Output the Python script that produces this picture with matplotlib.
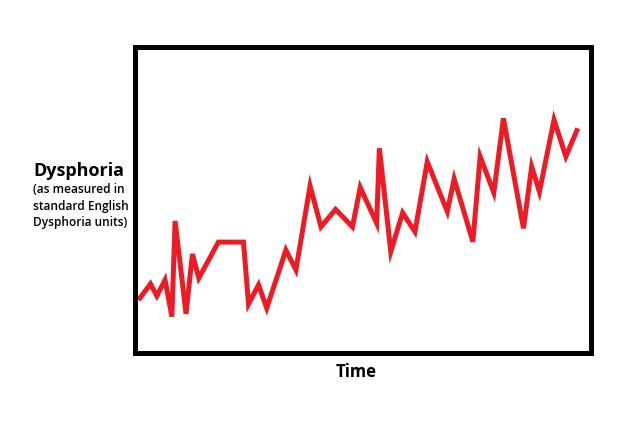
import matplotlib
matplotlib.use("Agg")
import matplotlib.pyplot as plt

# time (0-100) and dysphoria (0-100)
time = [1.2, 3.5, 4.9, 6.7, 8.2, 8.9, 11.3, 12.7, 14.1, 18.4, 23.9, 25.0, 27.2,
        29.0, 33.2, 35.4, 38.5, 40.9, 44.1, 47.8, 49.5, 53.1, 53.7, 56.2,
        58.8, 61.5, 64.2, 68.6, 70.1, 74.2, 75.8, 78.8, 80.9, 85.3, 87.1,
        88.8, 92.0, 94.6, 97.0]
dysphoria = [18.0, 22.6, 18.7, 23.9, 11.9, 43.2, 12.8, 32.4, 24.5, 36.3, 36.3,
             16.0, 22.3, 14.7, 33.7, 27.2, 54.7, 41.3, 47.0, 41.3, 54.2, 42.5,
             67.0, 33.2, 45.9, 39.7, 62.6, 46.3, 57.0, 36.4, 64.3, 52.5, 76.8,
             40.8, 61.0, 52.8, 76.3, 64.3, 72.8]

red = "#ed1c24"

fig = plt.figure(figsize=(6.4, 4.23), dpi=100)
ax = fig.add_axes([134.5 / 640, 70 / 423, 456 / 640, 305.5 / 423])
ax.plot(time, dysphoria, color=red, linewidth=3.6, solid_joinstyle="miter")
ax.set_xlim(0, 100)
ax.set_ylim(0, 100)
ax.set_xticks([])
ax.set_yticks([])
for s in ax.spines.values():
    s.set_linewidth(3.6)
    s.set_color("black")

fam = ["Open Sans", "DejaVu Sans"]
fig.text(33 / 640, 1 - 171 / 423, "Dysphoria", fontsize=13, fontweight="bold",
         family=fam, ha="left", va="center")
sub = "(as measured in\nstandard English\nDysphoria units)"
fig.text(33 / 640, 1 - 206 / 423, sub, fontsize=8.6, fontweight="semibold",
         family=fam, ha="left", va="center", linespacing=1.35)
fig.text(356 / 640, 1 - 372 / 423, "Time", fontsize=12, fontweight="bold",
         family=fam, ha="center", va="center")

fig.savefig("out.png", dpi=100)
